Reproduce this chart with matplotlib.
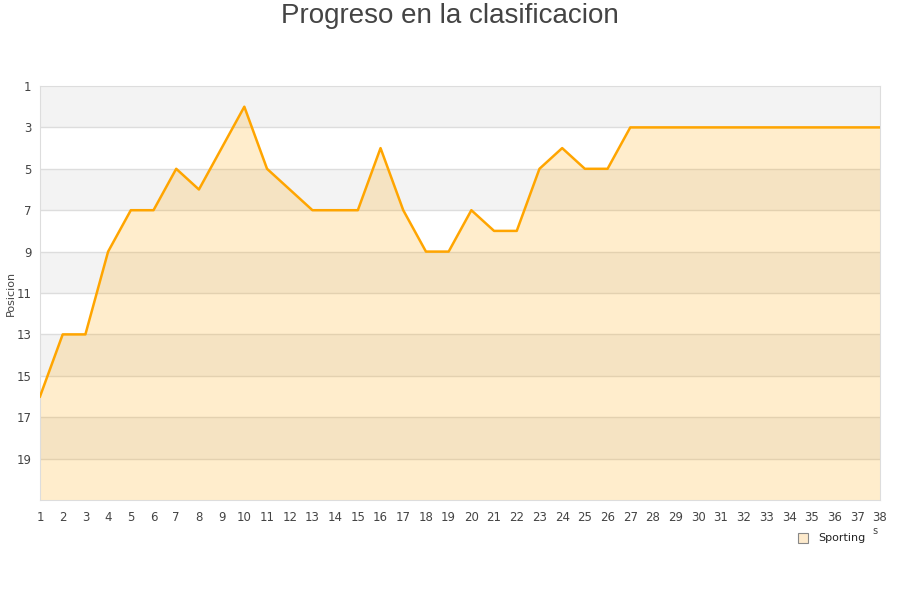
import matplotlib.pyplot as plt
import numpy as np

# Posicion del Sporting por jornada
jornadas = np.arange(1, 39)
posiciones = [16, 13, 13, 9, 7, 7, 5, 6, 4, 2, 5, 6, 7, 7, 7, 4, 7, 9, 9, 7,
              8, 8, 5, 4, 5, 5, 3, 3, 3, 3, 3, 3, 3, 3, 3, 3, 3, 3]
yticks = [1, 3, 5, 7, 9, 11, 13, 15, 17, 19]

fig = plt.figure(figsize=(9, 6), dpi=100)
ax = fig.add_axes([40 / 900, 1 - 500 / 600, 840 / 900, 414 / 600])

# bandas alternas de fondo
for i, y0 in enumerate(range(1, 21, 2)):
    if i % 2 == 0:
        ax.axhspan(y0, y0 + 2, color='#f3f3f3', zorder=0, lw=0)
for y in yticks[1:]:
    ax.axhline(y, color='#dddddd', lw=1, zorder=1)

ax.fill_between(jornadas, posiciones, 21, color='#ffa500', alpha=0.2, lw=0, zorder=2)
ax.plot(jornadas, posiciones, color='#ffa500', lw=1.8, zorder=3, label='Sporting')

ax.set_xlim(1, 38)
ax.set_ylim(21, 1)
ax.set_xticks(jornadas)
ax.set_yticks(yticks)
ax.tick_params(axis='x', length=0, labelsize=8.5, colors='#444444', pad=8)
ax.tick_params(axis='y', length=0, labelsize=8.5, colors='#444444', pad=6)
for s in ax.spines.values():
    s.set_color('#dddddd')

fig.text(11 / 900, 1 - 293 / 600, 'Posicion', rotation=90, ha='center', va='center',
         fontsize=8, color='#444444')
fig.text(0.5, 1 - 16 / 600, 'Progreso en la clasificacion', ha='center', va='center',
         fontsize=20, color='#444444', family='Liberation Sans')
fig.text(875 / 900, 1 - 531 / 600, 's', ha='center', va='center', fontsize=7, color='#444444')

# leyenda
fig.lines.append(plt.Line2D([803 / 900], [1 - 538 / 600], transform=fig.transFigure,
                            marker='s', ms=7, mfc='#fdeacc', mec='#888888', mew=0.8, ls=''))
fig.text(818 / 900, 1 - 538 / 600, 'Sporting', ha='left', va='center', fontsize=8, color='#222222')

fig.savefig('out.png', dpi=100)
